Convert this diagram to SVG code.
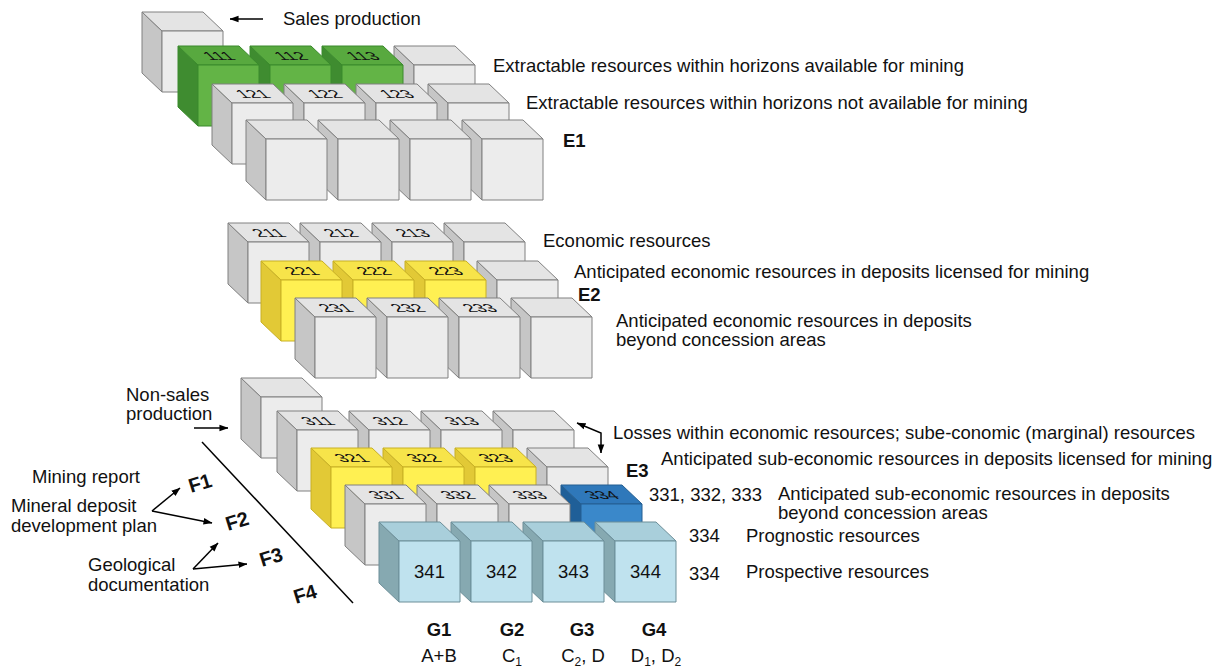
<svg xmlns="http://www.w3.org/2000/svg" width="1221" height="670" viewBox="0 0 1221 670">
<style>
text{font-family:"Liberation Sans",Arial,Helvetica,sans-serif;fill:#111}
.t{font-size:18.5px}
.b{font-size:18.5px;font-weight:bold}
.f{font-size:20px;font-weight:bold}
.lbl{font-size:16.5px;text-anchor:middle}
.fl{font-size:18.5px;text-anchor:middle}
.mid{text-anchor:middle}
.gy{--s:#c6c6c6;--p:#e4e4e4;--r:#ececec;--k:#808080}
.gr{--s:#3f8c30;--p:#58a93f;--r:#63b446;--k:#3a8a2c}
.ye{--s:#e2c936;--p:#f7e44a;--r:#fff052;--k:#c8b025}
.bl{--s:#1f5f98;--p:#2f78ba;--r:#3a88ca;--k:#255f92}
.lb{--s:#86a9b1;--p:#a9cfdb;--r:#bfe2ee;--k:#6d8f99}
.fs{fill:var(--s);stroke:var(--k);stroke-width:1;stroke-linejoin:round}
.fp{fill:var(--p);stroke:var(--k);stroke-width:1;stroke-linejoin:round}
.fr{fill:var(--r);stroke:var(--k);stroke-width:1;stroke-linejoin:round}
.ln{stroke:#000;stroke-width:1.5;fill:none}
</style>
<defs>
<marker id="ah" viewBox="0 0 10 10" refX="9.5" refY="5" markerWidth="9" markerHeight="9" orient="auto-start-reverse" markerUnits="userSpaceOnUse">
<path d="M0,1.3 L10,5 L0,8.7 z" fill="#000"/>
</marker>
<g id="cube">
<polygon class="fs" points="-20,-19 0,0 0,61 -20,42"/>
<polygon class="fp" points="-20,-19 41,-19 61,0 0,0"/>
<rect class="fr" x="0" y="0" width="61" height="61"/>
</g>
</defs>

<!-- E1 block -->
<g id="sales-cube" class="gy"><use href="#cube" x="162" y="31"/></g>
<g id="c114" class="gy"><use href="#cube" x="414" y="65"/></g>
<g id="c113" class="gr"><use href="#cube" x="342" y="65"/><text class="lbl" transform="matrix(1.1 0 0.75 0.7 362.5 55.5)" x="0" y="6">113</text></g>
<g id="c112" class="gr"><use href="#cube" x="270" y="65"/><text class="lbl" transform="matrix(1.1 0 0.75 0.7 290.5 55.5)" x="0" y="6">112</text></g>
<g id="c111" class="gr"><use href="#cube" x="198" y="65"/><text class="lbl" transform="matrix(1.1 0 0.75 0.7 218.5 55.5)" x="0" y="6">111</text></g>
<g id="c124" class="gy"><use href="#cube" x="448" y="103"/></g>
<g id="c123" class="gy"><use href="#cube" x="376" y="103"/><text class="lbl" transform="matrix(1.1 0 0.75 0.7 396.5 93.5)" x="0" y="6">123</text></g>
<g id="c122" class="gy"><use href="#cube" x="304" y="103"/><text class="lbl" transform="matrix(1.1 0 0.75 0.7 324.5 93.5)" x="0" y="6">122</text></g>
<g id="c121" class="gy"><use href="#cube" x="232" y="103"/><text class="lbl" transform="matrix(1.1 0 0.75 0.7 252.5 93.5)" x="0" y="6">121</text></g>
<g id="c134" class="gy"><use href="#cube" x="482" y="139"/></g>
<g id="c133" class="gy"><use href="#cube" x="410" y="139"/></g>
<g id="c132" class="gy"><use href="#cube" x="338" y="139"/></g>
<g id="c131" class="gy"><use href="#cube" x="266" y="139"/></g>

<!-- E2 block -->
<g id="c214" class="gy"><use href="#cube" x="464" y="242"/></g>
<g id="c213" class="gy"><use href="#cube" x="392" y="242"/><text class="lbl" transform="matrix(1.1 0 0.75 0.7 412.5 232.5)" x="0" y="6">213</text></g>
<g id="c212" class="gy"><use href="#cube" x="320" y="242"/><text class="lbl" transform="matrix(1.1 0 0.75 0.7 340.5 232.5)" x="0" y="6">212</text></g>
<g id="c211" class="gy"><use href="#cube" x="248" y="242"/><text class="lbl" transform="matrix(1.1 0 0.75 0.7 268.5 232.5)" x="0" y="6">211</text></g>
<g id="c224" class="gy"><use href="#cube" x="497" y="280"/></g>
<g id="c223" class="ye"><use href="#cube" x="425" y="280"/><text class="lbl" transform="matrix(1.1 0 0.75 0.7 445.5 270.5)" x="0" y="6">223</text></g>
<g id="c222" class="ye"><use href="#cube" x="353" y="280"/><text class="lbl" transform="matrix(1.1 0 0.75 0.7 373.5 270.5)" x="0" y="6">222</text></g>
<g id="c221" class="ye"><use href="#cube" x="281" y="280"/><text class="lbl" transform="matrix(1.1 0 0.75 0.7 301.5 270.5)" x="0" y="6">221</text></g>
<g id="c234" class="gy"><use href="#cube" x="531" y="317"/></g>
<g id="c233" class="gy"><use href="#cube" x="459" y="317"/><text class="lbl" transform="matrix(1.1 0 0.75 0.7 479.5 307.5)" x="0" y="6">233</text></g>
<g id="c232" class="gy"><use href="#cube" x="387" y="317"/><text class="lbl" transform="matrix(1.1 0 0.75 0.7 407.5 307.5)" x="0" y="6">232</text></g>
<g id="c231" class="gy"><use href="#cube" x="315" y="317"/><text class="lbl" transform="matrix(1.1 0 0.75 0.7 335.5 307.5)" x="0" y="6">231</text></g>

<!-- E3 block -->
<g id="nonsales-cube" class="gy"><use href="#cube" x="261" y="397"/></g>
<g id="c314" class="gy"><use href="#cube" x="513" y="430"/></g>
<g id="c313" class="gy"><use href="#cube" x="441" y="430"/><text class="lbl" transform="matrix(1.1 0 0.75 0.7 461.5 420.5)" x="0" y="6">313</text></g>
<g id="c312" class="gy"><use href="#cube" x="369" y="430"/><text class="lbl" transform="matrix(1.1 0 0.75 0.7 389.5 420.5)" x="0" y="6">312</text></g>
<g id="c311" class="gy"><use href="#cube" x="297" y="430"/><text class="lbl" transform="matrix(1.1 0 0.75 0.7 317.5 420.5)" x="0" y="6">311</text></g>
<g id="c324" class="gy"><use href="#cube" x="547" y="467"/></g>
<g id="c323" class="ye"><use href="#cube" x="475" y="467"/><text class="lbl" transform="matrix(1.1 0 0.75 0.7 495.5 457.5)" x="0" y="6">323</text></g>
<g id="c322" class="ye"><use href="#cube" x="403" y="467"/><text class="lbl" transform="matrix(1.1 0 0.75 0.7 423.5 457.5)" x="0" y="6">322</text></g>
<g id="c321" class="ye"><use href="#cube" x="331" y="467"/><text class="lbl" transform="matrix(1.1 0 0.75 0.7 351.5 457.5)" x="0" y="6">321</text></g>
<g id="c334" class="bl"><use href="#cube" x="581" y="504"/><text class="lbl" transform="matrix(1.1 0 0.75 0.7 601.5 494.5)" x="0" y="6">334</text></g>
<g id="c333" class="gy"><use href="#cube" x="509" y="504"/><text class="lbl" transform="matrix(1.1 0 0.75 0.7 529.5 494.5)" x="0" y="6">333</text></g>
<g id="c332" class="gy"><use href="#cube" x="437" y="504"/><text class="lbl" transform="matrix(1.1 0 0.75 0.7 457.5 494.5)" x="0" y="6">332</text></g>
<g id="c331" class="gy"><use href="#cube" x="365" y="504"/><text class="lbl" transform="matrix(1.1 0 0.75 0.7 385.5 494.5)" x="0" y="6">331</text></g>
<g id="c344" class="lb"><use href="#cube" x="615" y="541"/><text class="fl" x="645.5" y="578">344</text></g>
<g id="c343" class="lb"><use href="#cube" x="543" y="541"/><text class="fl" x="573.5" y="578">343</text></g>
<g id="c342" class="lb"><use href="#cube" x="471" y="541"/><text class="fl" x="501.5" y="578">342</text></g>
<g id="c341" class="lb"><use href="#cube" x="399" y="541"/><text class="fl" x="429.5" y="578">341</text></g>

<!-- connectors -->
<g id="connectors">
<line class="ln" x1="263" y1="19" x2="230" y2="19" marker-end="url(#ah)"/>
<line class="ln" x1="194" y1="428" x2="228" y2="428" marker-end="url(#ah)"/>
<line class="ln" x1="202" y1="442" x2="353" y2="603"/>
<line class="ln" x1="152" y1="511" x2="180" y2="488" marker-end="url(#ah)"/>
<line class="ln" x1="152" y1="511" x2="212" y2="523" marker-end="url(#ah)"/>
<line class="ln" x1="193" y1="569" x2="218" y2="543" marker-end="url(#ah)"/>
<line class="ln" x1="193" y1="569" x2="247" y2="564" marker-end="url(#ah)"/>
<polyline class="ln" points="577,423 601,433 601,453" marker-start="url(#ah)" marker-end="url(#ah)"/>
</g>

<!-- labels -->
<g id="labels">
<text class="t" x="283" y="25">Sales production</text>
<text class="t" x="493" y="72">Extractable resources within horizons available for mining</text>
<text class="t" x="526" y="109">Extractable resources within horizons not available for mining</text>
<text class="b" x="563" y="147">E1</text>
<text class="t" x="543" y="247">Economic resources</text>
<text class="t" x="574" y="278">Anticipated economic resources in deposits licensed for mining</text>
<text class="b" x="578" y="301">E2</text>
<text class="t" x="616" y="327">Anticipated economic resources in deposits</text>
<text class="t" x="616" y="346">beyond concession areas</text>
<text class="t" x="613" y="439">Losses within economic resources; sube-conomic (marginal) resources</text>
<text class="t" x="661" y="465">Anticipated sub-economic resources in deposits licensed for mining</text>
<text class="b" x="626" y="477">E3</text>
<text class="t" x="649" y="501">331, 332, 333</text>
<text class="t" x="778" y="500">Anticipated sub-economic resources in deposits</text>
<text class="t" x="778" y="519">beyond concession areas</text>
<text class="t" x="689" y="542">334</text>
<text class="t" x="746" y="542">Prognostic resources</text>
<text class="t" x="689" y="580">334</text>
<text class="t" x="746" y="578">Prospective resources</text>
<text class="t" x="126" y="401">Non-sales</text>
<text class="t" x="126" y="420">production</text>
<text class="t" x="32" y="483">Mining report</text>
<text class="t" x="11" y="512">Mineral deposit</text>
<text class="t" x="11" y="532">development plan</text>
<text class="t" x="88" y="571">Geological</text>
<text class="t" x="88" y="591">documentation</text>
<text class="f mid" transform="translate(200,483) rotate(-17)" x="0" y="7">F1</text>
<text class="f mid" transform="translate(237,521) rotate(-17)" x="0" y="7">F2</text>
<text class="f mid" transform="translate(271,557) rotate(-17)" x="0" y="7">F3</text>
<text class="f mid" transform="translate(305,594) rotate(-17)" x="0" y="7">F4</text>
<text class="b mid" x="439" y="636">G1</text>
<text class="b mid" x="512" y="636">G2</text>
<text class="b mid" x="582" y="636">G3</text>
<text class="b mid" x="654" y="636">G4</text>
<text class="t mid" x="439" y="662">A+B</text>
<text class="t mid" x="512" y="662">C<tspan font-size="12" dy="4">1</tspan></text>
<text class="t mid" x="583" y="662">C<tspan font-size="12" dy="4">2</tspan><tspan dy="-4">, D</tspan></text>
<text class="t mid" x="656" y="662">D<tspan font-size="12" dy="4">1</tspan><tspan dy="-4">, D</tspan><tspan font-size="12" dy="4">2</tspan></text>
</g>
</svg>
